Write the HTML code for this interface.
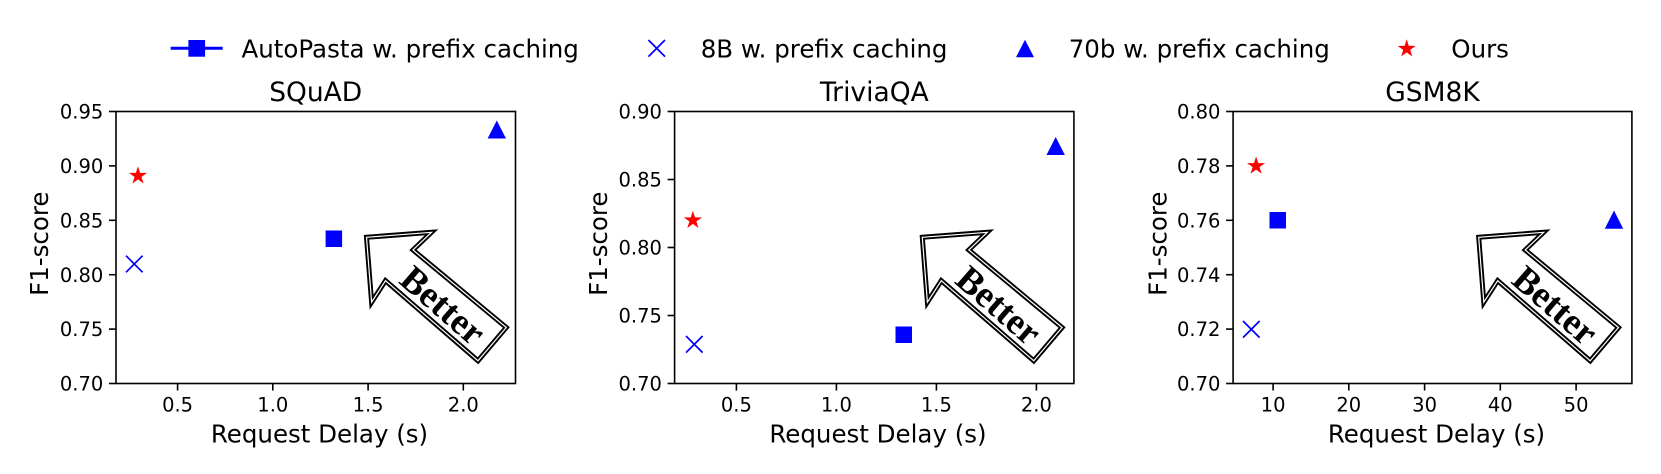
<!DOCTYPE html>
<html>
<head>
<meta charset="utf-8">
<style>
html,body{margin:0;padding:0;background:#fff;}
svg{display:block;}
text{font-family:"DejaVu Sans","Liberation Sans",sans-serif;fill:#000;}
.tk{font-size:19.5px;}
.lb{font-size:24.5px;}
.tt{font-size:26.5px;}
.bt{font-family:"Liberation Serif","DejaVu Serif",serif;font-weight:bold;font-size:37px;}
</style>
</head>
<body>
<svg width="1661" height="474" viewBox="0 0 1661 474" xmlns="http://www.w3.org/2000/svg">
<defs>
<path id="star" d="M0,-8.2 L1.84,-2.534 L7.799,-2.534 L2.979,0.967 L4.82,6.634 L0,3.133 L-4.82,6.634 L-2.979,0.967 L-7.799,-2.534 L-1.84,-2.534 Z" fill="#ff0000" stroke="#ff0000" stroke-width="0.8" stroke-linejoin="miter"/>
<path id="xm" d="M-8.3,-8.3 L8.3,8.3 M-8.3,8.3 L8.3,-8.3" stroke="#0000ff" stroke-width="1.7" fill="none"/>
<g id="arrow">
<polygon points="366.5,237.3 431.5,232.3 413,250 506.3,327.5 478,360.8 385.5,280.7 371.6,302.2" fill="#fff" stroke="#000" stroke-width="5" stroke-linejoin="miter" stroke-miterlimit="10"/>
<polygon points="366.5,237.3 431.5,232.3 413,250 506.3,327.5 478,360.8 385.5,280.7 371.6,302.2" fill="none" stroke="#fff" stroke-width="1.2" stroke-linejoin="miter" stroke-miterlimit="10"/>
<text class="bt" x="0" y="0" text-anchor="middle" dominant-baseline="central" transform="translate(442.5,306) rotate(41)">Better</text>
</g>
</defs>
<rect width="1661" height="474" fill="#fff"/>

<!-- Legend -->
<line x1="170.7" y1="48.3" x2="222.7" y2="48.3" stroke="#0000ff" stroke-width="3"/>
<rect x="188.4" y="40" width="16.7" height="16.7" fill="#0000ff"/>
<text class="lb" x="241.5" y="57.3">AutoPasta w. prefix caching</text>
<use href="#xm" x="656.7" y="48.3"/>
<text class="lb" x="700.7" y="57.3">8B w. prefix caching</text>
<polygon points="1025,39.8 1016,57.3 1034,57.3" fill="#0000ff"/>
<text class="lb" x="1068.7" y="57.3">70b w. prefix caching</text>
<use href="#star" x="1406.7" y="48.8"/>
<text class="lb" x="1451.3" y="57.3">Ours</text>

<!-- Panel 1: SQuAD -->
<g>
<text class="tt" x="315.7" y="101" text-anchor="middle">SQuAD</text>
<use href="#arrow"/>
<use href="#xm" x="134.3" y="264"/>
<use href="#star" x="138" y="175.8"/>
<rect x="325.6" y="230.5" width="16.5" height="16.5" fill="#0000ff"/>
<polygon points="496.8,120.5 487.6,138.5 506,138.5" fill="#0000ff"/>
<rect x="116" y="111.5" width="399.5" height="272" fill="none" stroke="#000" stroke-width="1.6"/>
<g stroke="#000" stroke-width="1.6">
<line x1="109" y1="111.5" x2="116" y2="111.5"/>
<line x1="109" y1="165.9" x2="116" y2="165.9"/>
<line x1="109" y1="220.3" x2="116" y2="220.3"/>
<line x1="109" y1="274.7" x2="116" y2="274.7"/>
<line x1="109" y1="329.1" x2="116" y2="329.1"/>
<line x1="109" y1="383.5" x2="116" y2="383.5"/>
<line x1="177.6" y1="383.5" x2="177.6" y2="390.5"/>
<line x1="272.8" y1="383.5" x2="272.8" y2="390.5"/>
<line x1="368.1" y1="383.5" x2="368.1" y2="390.5"/>
<line x1="463.3" y1="383.5" x2="463.3" y2="390.5"/>
</g>
<g class="tk" text-anchor="end">
<text x="103.3" y="118.6">0.95</text>
<text x="103.3" y="173">0.90</text>
<text x="103.3" y="227.4">0.85</text>
<text x="103.3" y="281.8">0.80</text>
<text x="103.3" y="336.2">0.75</text>
<text x="103.3" y="390.6">0.70</text>
</g>
<g class="tk" text-anchor="middle">
<text x="177.6" y="411.5">0.5</text>
<text x="272.8" y="411.5">1.0</text>
<text x="368.1" y="411.5">1.5</text>
<text x="463.3" y="411.5">2.0</text>
</g>
<text class="lb" x="319.5" y="442.3" text-anchor="middle">Request Delay (s)</text>
<text class="lb" x="0" y="0" text-anchor="middle" transform="translate(48.2,243.7) rotate(-90)">F1-score</text>
</g>

<!-- Panel 2: TriviaQA -->
<g>
<text class="tt" x="874.3" y="101" text-anchor="middle">TriviaQA</text>
<use href="#arrow" x="555.8" y="0"/>
<use href="#xm" x="694.3" y="344.3"/>
<use href="#star" x="692.9" y="220.3"/>
<rect x="895.5" y="326.5" width="16.5" height="16.5" fill="#0000ff"/>
<polygon points="1055.7,137 1046.5,155 1064.9,155" fill="#0000ff"/>
<rect x="674.6" y="111.5" width="399.3" height="272" fill="none" stroke="#000" stroke-width="1.6"/>
<g stroke="#000" stroke-width="1.6">
<line x1="667.6" y1="111.5" x2="674.6" y2="111.5"/>
<line x1="667.6" y1="179.5" x2="674.6" y2="179.5"/>
<line x1="667.6" y1="247.5" x2="674.6" y2="247.5"/>
<line x1="667.6" y1="315.5" x2="674.6" y2="315.5"/>
<line x1="667.6" y1="383.5" x2="674.6" y2="383.5"/>
<line x1="736.4" y1="383.5" x2="736.4" y2="390.5"/>
<line x1="836.4" y1="383.5" x2="836.4" y2="390.5"/>
<line x1="936.4" y1="383.5" x2="936.4" y2="390.5"/>
<line x1="1036.4" y1="383.5" x2="1036.4" y2="390.5"/>
</g>
<g class="tk" text-anchor="end">
<text x="661.9" y="118.6">0.90</text>
<text x="661.9" y="186.6">0.85</text>
<text x="661.9" y="254.6">0.80</text>
<text x="661.9" y="322.6">0.75</text>
<text x="661.9" y="390.6">0.70</text>
</g>
<g class="tk" text-anchor="middle">
<text x="736.4" y="411.5">0.5</text>
<text x="836.4" y="411.5">1.0</text>
<text x="936.4" y="411.5">1.5</text>
<text x="1036.4" y="411.5">2.0</text>
</g>
<text class="lb" x="878" y="442.3" text-anchor="middle">Request Delay (s)</text>
<text class="lb" x="0" y="0" text-anchor="middle" transform="translate(607,243.7) rotate(-90)">F1-score</text>
</g>

<!-- Panel 3: GSM8K -->
<g>
<text class="tt" x="1432.5" y="101" text-anchor="middle">GSM8K</text>
<use href="#arrow" x="1112.2" y="0"/>
<use href="#xm" x="1251.3" y="329.3"/>
<use href="#star" x="1256.1" y="166"/>
<rect x="1269.5" y="212" width="16.5" height="16.5" fill="#0000ff"/>
<polygon points="1614,210.5 1604.8,228.7 1623.2,228.7" fill="#0000ff"/>
<rect x="1233.1" y="111.5" width="398.8" height="272" fill="none" stroke="#000" stroke-width="1.6"/>
<g stroke="#000" stroke-width="1.6">
<line x1="1226.1" y1="111.5" x2="1233.1" y2="111.5"/>
<line x1="1226.1" y1="165.9" x2="1233.1" y2="165.9"/>
<line x1="1226.1" y1="220.3" x2="1233.1" y2="220.3"/>
<line x1="1226.1" y1="274.7" x2="1233.1" y2="274.7"/>
<line x1="1226.1" y1="329.1" x2="1233.1" y2="329.1"/>
<line x1="1226.1" y1="383.5" x2="1233.1" y2="383.5"/>
<line x1="1273.1" y1="383.5" x2="1273.1" y2="390.5"/>
<line x1="1348.8" y1="383.5" x2="1348.8" y2="390.5"/>
<line x1="1424.6" y1="383.5" x2="1424.6" y2="390.5"/>
<line x1="1500.3" y1="383.5" x2="1500.3" y2="390.5"/>
<line x1="1576.1" y1="383.5" x2="1576.1" y2="390.5"/>
</g>
<g class="tk" text-anchor="end">
<text x="1220.4" y="118.6">0.80</text>
<text x="1220.4" y="173">0.78</text>
<text x="1220.4" y="227.4">0.76</text>
<text x="1220.4" y="281.8">0.74</text>
<text x="1220.4" y="336.2">0.72</text>
<text x="1220.4" y="390.6">0.70</text>
</g>
<g class="tk" text-anchor="middle">
<text x="1273.1" y="411.5">10</text>
<text x="1348.8" y="411.5">20</text>
<text x="1424.6" y="411.5">30</text>
<text x="1500.3" y="411.5">40</text>
<text x="1576.1" y="411.5">50</text>
</g>
<text class="lb" x="1436.5" y="442.3" text-anchor="middle">Request Delay (s)</text>
<text class="lb" x="0" y="0" text-anchor="middle" transform="translate(1166.5,243.7) rotate(-90)">F1-score</text>
</g>
</svg>
</body>
</html>
